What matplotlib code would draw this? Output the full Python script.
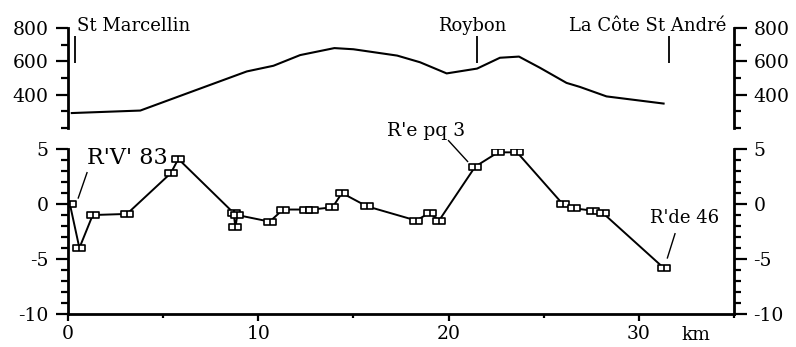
import numpy as np
import matplotlib
matplotlib.use("Agg")
import matplotlib.pyplot as plt
from matplotlib.path import Path
from matplotlib.ticker import MultipleLocator

# elevation profile along the line (km, m)
prof_km = [0.2, 3.8, 6.3, 9.4, 10.8, 12.2, 14.0, 15.0, 17.3, 18.5, 19.9,
           21.5, 22.7, 23.7, 24.8, 26.2, 26.9, 28.3, 31.3]
prof_elev = [290, 305, 410, 540, 574, 638, 680, 673, 635, 595, 528,
             557, 622, 629, 562, 471, 447, 390, 347]

# towns along the profile
towns = ["St Marcellin", "Roybon", "La Côte St André"]
town_km = [0.37, 21.5, 31.6]

# levelling differences (km, value)
pts_km = [0.1, 0.6, 1.3, 3.1, 5.4, 5.8, 8.7, 8.8, 8.9, 10.6, 11.3, 12.5,
          12.8, 13.9, 14.4, 15.7, 18.3, 19.0, 19.5, 21.4, 22.6, 23.6,
          26.0, 26.6, 27.6, 28.1, 31.3]
pts_val = [0.0, -4.0, -1.0, -0.9, 2.8, 4.1, -0.8, -2.1, -1.0, -1.6, -0.5,
           -0.5, -0.5, -0.3, 1.0, -0.2, -1.5, -0.8, -1.5, 3.4, 4.7, 4.7,
           0.0, -0.4, -0.6, -0.8, -5.8]

plt.rcParams["font.family"] = ["DejaVu Serif"]
plt.rcParams["axes.unicode_minus"] = False


def benchMarker():
    # rectangle split in two, like the little benchmark boxes
    verts = [(-1, -0.55), (1, -0.55), (1, 0.55), (-1, 0.55), (-1, -0.55),
             (0, -0.55), (0, 0.55)]
    codes = [Path.MOVETO, Path.LINETO, Path.LINETO, Path.LINETO,
             Path.CLOSEPOLY, Path.MOVETO, Path.LINETO]
    return Path(verts, codes)


def styleAxis(ax, major, minor):
    ax.spines["top"].set_visible(False)
    for s in ["left", "right", "bottom"]:
        ax.spines[s].set_linewidth(2)
    ax.yaxis.set_major_locator(MultipleLocator(major))
    ax.yaxis.set_minor_locator(MultipleLocator(minor))
    ax.tick_params(axis="y", which="both", left=True, right=True,
                   labelleft=True, labelright=True, direction="out",
                   width=1.6, labelsize=13.5, pad=5)
    ax.tick_params(axis="y", which="major", length=9)
    ax.tick_params(axis="y", which="minor", length=5)


fig = plt.figure(figsize=(7.96, 3.47), dpi=100)
ax1 = fig.add_axes([0.0854, 0.631, 0.8367, 0.288])
ax2 = fig.add_axes([0.0854, 0.095, 0.8367, 0.4755])

# top: topography
ax1.plot(prof_km, prof_elev, color="black", lw=1.5)
ax1.vlines(town_km, 590, 750, color="black", lw=1.3)
ax1.set_xlim(0, 35)
ax1.set_ylim(200, 800)
styleAxis(ax1, 200, 100)
ax1.set_yticks([400, 600, 800])
ax1.spines["bottom"].set_visible(False)
ax1.tick_params(axis="x", bottom=False, labelbottom=False)
ax1.text(0.47, 815, towns[0], fontsize=13, ha="left", va="center")
ax1.text(21.25, 812, towns[1], fontsize=13, ha="center", va="center")
ax1.text(34.6, 815, towns[2], fontsize=13, ha="right", va="center",
         clip_on=False)

# bottom: levelling points
ax2.plot(pts_km, pts_val, color="black", lw=1.4, marker=benchMarker(),
         ms=9, mfc="white", mec="black", mew=1.2)
ax2.set_xlim(0, 35)
ax2.set_ylim(-10, 5)
styleAxis(ax2, 5, 1)
ax2.xaxis.set_major_locator(MultipleLocator(10))
ax2.xaxis.set_minor_locator(MultipleLocator(5))
ax2.tick_params(axis="x", which="both", direction="out", width=1.6,
                labelsize=13.5, pad=3)
ax2.tick_params(axis="x", which="major", length=5)
ax2.tick_params(axis="x", which="minor", length=3)
ax2.text(33.0, -0.07, "km", fontsize=13.5, ha="center", va="top",
         transform=ax2.get_xaxis_transform())

# labels of the reference benchmarks
ax2.text(1.0, 4.2, "R'V' 83", fontsize=16, ha="left", va="center",
         clip_on=False)
ax2.plot([0.54, 1.0], [0.55, 2.85], color="black", lw=1)
ax2.text(18.8, 6.6, "R'e pq 3", fontsize=13.5, ha="center", va="center",
         clip_on=False)
ax2.plot([20.0, 21.0], [5.76, 3.87], color="black", lw=1, clip_on=False)
ax2.text(32.4, -1.3, "R'de 46", fontsize=13, ha="center", va="center")
ax2.plot([31.9, 31.5], [-2.7, -4.9], color="black", lw=1)

fig.savefig("out.png", dpi=100)
